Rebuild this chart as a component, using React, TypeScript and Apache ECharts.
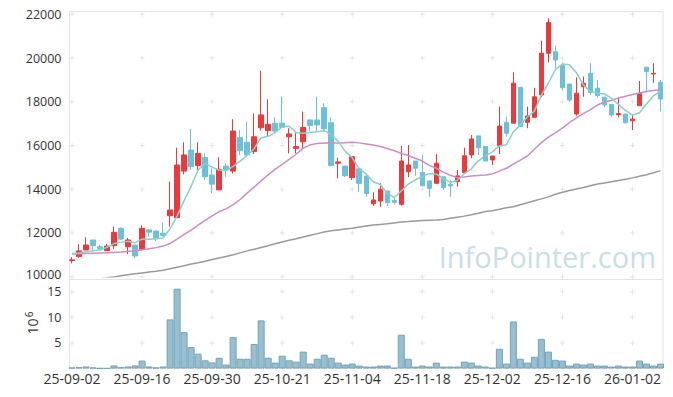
import React, { useEffect, useRef } from "react";
import * as echarts from "echarts";

const dates = [
  "25-09-02","25-09-03","25-09-04","25-09-05","25-09-08","25-09-09","25-09-10","25-09-11","25-09-12","25-09-15",
  "25-09-16","25-09-17","25-09-18","25-09-19","25-09-22","25-09-23","25-09-24","25-09-25","25-09-26","25-09-29",
  "25-09-30","25-10-01","25-10-02","25-10-10","25-10-13","25-10-14","25-10-15","25-10-16","25-10-17","25-10-20",
  "25-10-21","25-10-22","25-10-23","25-10-24","25-10-27","25-10-28","25-10-29","25-10-30","25-10-31","25-11-03",
  "25-11-04","25-11-05","25-11-06","25-11-07","25-11-10","25-11-11","25-11-12","25-11-13","25-11-14","25-11-17",
  "25-11-18","25-11-19","25-11-20","25-11-21","25-11-24","25-11-25","25-11-26","25-11-27","25-11-28","25-12-01",
  "25-12-02","25-12-03","25-12-04","25-12-05","25-12-08","25-12-09","25-12-10","25-12-11","25-12-12","25-12-15",
  "25-12-16","25-12-17","25-12-18","25-12-19","25-12-22","25-12-23","25-12-24","25-12-26","25-12-29","25-12-30",
  "26-01-02","26-01-05","26-01-06","26-01-07","26-01-08",
];

const opens = [
  10740,10920,11220,11680,11370,11190,11420,12210,11370,11450,
  11250,12140,12090,11990,12790,12700,14830,15790,15080,15460,
  14650,13970,15060,14830,16360,16150,15720,16810,16680,17020,
  17020,16400,15870,16170,17170,17170,17730,17040,15190,15060,
  14530,14930,14600,13340,13460,13920,13490,13310,14800,15290,
  14760,14380,14270,14570,14230,14350,14760,15570,16440,15950,
  15340,15990,17060,17020,18660,17060,17290,18310,20220,20290,
  19650,18810,17440,18690,19300,18620,18210,17880,17410,17440,
  17130,17820,19580,19270,18890,
];
const closes = [
  10770,11180,11450,11420,11280,11400,12030,11720,11680,10950,
  12210,12030,11780,11890,13050,15110,15570,15030,15640,14570,
  14230,14910,14880,16660,15760,15570,16400,17400,16970,16660,
  16830,16530,15950,16830,16910,16940,16760,15080,15250,14620,
  15490,14270,13810,13510,14000,13390,13400,15290,15110,14960,
  14160,14040,15190,14070,14150,14610,15530,16300,15900,15290,
  15520,16890,16560,18850,16860,17350,18230,20220,21630,19910,
  18640,18080,18390,18850,18420,18280,17850,17400,17460,17040,
  17210,18390,19380,19300,18130,
];
const lows = [
  10610,10870,11220,11140,11220,11190,11270,11680,11030,10840,
  11250,11830,11630,11840,12290,12700,14680,14880,14830,14420,
  13810,13970,14570,14730,15570,15500,15610,16680,16400,16600,
  16830,15640,15640,15870,16660,16630,16700,15080,14500,14560,
  14420,13890,13660,13230,13200,13230,13300,13250,14550,14620,
  14160,13660,14270,13970,13660,14120,14760,15420,15570,15290,
  15110,15610,16400,17020,16860,16790,17290,18210,19810,19530,
  18510,18000,17360,18230,18300,18200,17750,17290,17290,17040,
  16710,17820,18430,18870,17550,
];
const highs = [
  10890,11480,11800,11680,11450,11500,12290,12260,11770,11450,
  12350,12170,12090,12490,14350,15900,16150,16760,16150,15640,
  14960,15460,15190,17200,16710,17090,17470,19420,18110,17290,
  18230,16790,16590,17550,17170,18230,17930,17290,15440,15060,
  15490,15000,14730,13860,14270,13920,13610,15980,16020,15290,
  15570,14380,15600,14570,14420,14880,15900,16480,16440,15950,
  15520,17780,17320,19350,18660,17780,18640,20790,21820,20560,
  19790,18810,19120,19150,19760,19000,18210,17880,18160,17440,
  17430,18950,19580,19760,19000,
];
// closes of the four sessions before 25-09-02 (needed for the first MA5 points)
const priorCloses = [11050, 11150, 11200, 11100];

const ma20 = [
  11040,11050,11060,11070,11080,11090,11110,11130,11160,11190,
  11230,11280,11330,11400,11520,11720,11930,12130,12360,12580,
  12780,12980,13100,13300,13530,13820,14100,14380,14660,14920,
  15140,15370,15600,15880,16030,16090,16110,16110,16110,16130,
  16150,16120,16070,16020,15950,15860,15760,15640,15540,15420,
  15290,15090,14960,14780,14640,14530,14560,14600,14630,14650,
  14700,14830,14960,15150,15330,15520,15830,16130,16380,16580,
  16800,17050,17260,17460,17640,17850,17990,18060,18170,18250,
  18330,18400,18470,18510,18540,
];
const ma120 = [
  9800,9830,9860,9870,9900,9950,9990,10040,10090,10130,
  10170,10210,10250,10300,10360,10430,10500,10580,10640,10710,
  10790,10860,10920,11000,11090,11180,11260,11340,11420,11510,
  11590,11670,11740,11820,11900,11970,12040,12100,12140,12180,
  12220,12270,12320,12360,12390,12420,12460,12500,12520,12550,
  12570,12580,12590,12620,12670,12720,12770,12830,12900,12980,
  13020,13080,13150,13200,13290,13380,13470,13560,13650,13770,
  13860,13940,14010,14080,14160,14240,14290,14340,14400,14460,
  14520,14590,14660,14750,14850,
];
const volumes = [
  0.2,0.26,0.4,0.2,0.05,0.05,0.6,0.26,0.4,0.6,
  1.55,0.4,0.2,0.4,9.6,15.6,7.1,4.2,2.9,1.6,
  1.2,2.1,0.77,6.15,1.9,1.9,4.8,9.4,2.1,1.15,
  2.5,1.6,1.35,3.3,0.96,1.9,2.7,2.1,1.15,0.77,
  0.96,0.58,0.38,0.38,0.58,0.58,0.13,6.6,1.9,0.38,
  0.58,0.38,1.15,0.38,0.38,0.38,1.35,1.15,0.58,0.38,
  0.13,3.85,0.96,9.2,1.9,1.15,2.3,5.8,3.3,1.7,
  1.55,0.58,0.96,0.77,0.96,0.58,0.58,0.38,0.58,0.38,
  0.38,1.55,0.96,0.58,0.96,
];

const priceTicks = [10000, 12000, 14000, 16000, 18000, 20000, 22000];
const volumeTicks = [5, 10, 15];
const labelIndices = [0, 10, 20, 30, 40, 50, 60, 70, 80];

const FONT = "'Open Sans', sans-serif";

function movingAverage5(): number[] {
  const all = priorCloses.concat(closes);
  const out: number[] = [];
  for (let i = 0; i < closes.length; i++) {
    let s = 0;
    for (let k = 0; k < 5; k++) s += all[i + priorCloses.length - k];
    out.push(Math.round(s / 5));
  }
  return out;
}

export default function App() {
  const ref = useRef<HTMLDivElement>(null);
  useEffect(() => {
    document.body.style.margin = "0";
    if (!ref.current) return;
    const chart = echarts.init(ref.current, undefined, { renderer: "svg" });
    const candles = dates.map((_, i) => [opens[i], closes[i], lows[i], highs[i]]);
    const ma5 = movingAverage5();
    const crossSymbol = "path://M2,0h1v5h-1zM0,2h5v1h-5z";
    const priceCrosses: number[][] = [];
    labelIndices.forEach((ix) => priceTicks.forEach((t) => priceCrosses.push([ix, t])));
    const volCrosses: number[][] = [];
    labelIndices.forEach((ix) => volumeTicks.forEach((t) => volCrosses.push([ix, t])));

    const gridLeft = 68.5;
    const gridRight = 9;

    chart.setOption({
      animation: false,
      backgroundColor: "#ffffff",
      textStyle: { fontFamily: FONT },
      grid: [
        { left: gridLeft, right: gridRight, top: 14.3, height: 262.4 },
        { left: gridLeft, right: gridRight, top: 279, height: 89.5 },
      ],
      xAxis: [
        {
          type: "category",
          gridIndex: 0,
          data: dates,
          boundaryGap: true,
          axisLine: { show: false },
          axisTick: { show: false },
          axisLabel: { show: false },
          splitLine: { show: false },
        },
        {
          type: "category",
          gridIndex: 1,
          data: dates,
          boundaryGap: true,
          axisLine: { show: false },
          axisTick: { show: false },
          axisLabel: { interval: 9, fontSize: 14, color: "#333", margin: 3, fontFamily: FONT },
          splitLine: { show: false },
        },
      ],
      yAxis: [
        {
          type: "value",
          gridIndex: 0,
          min: 10000,
          max: 22000,
          interval: 2000,
          axisLine: { show: false },
          axisTick: { show: false },
          axisLabel: {
            fontSize: 12.5,
            lineHeight: 12,
            color: "#333",
            margin: 7,
            fontFamily: FONT,
            formatter: (v: number) => (v === 10000 ? "{lo|10000}" : String(v)),
            rich: {
              lo: { fontSize: 12.5, lineHeight: 12, color: "#333", fontFamily: FONT, padding: [0, 0, 4, 0] },
            },
          },
          splitLine: { show: false },
        },
        {
          type: "value",
          gridIndex: 1,
          min: 0,
          max: 17.5,
          interval: 5,
          axisLine: { show: false },
          axisTick: { show: false },
          axisLabel: {
            fontSize: 12.5,
            lineHeight: 12,
            color: "#333",
            margin: 7,
            fontFamily: FONT,
            showMinLabel: false,
            showMaxLabel: false,
            formatter: (v: number) => (v > 0 && v % 5 === 0 ? String(v) : ""),
          },
          splitLine: { show: false },
        },
      ],
      graphic: [
        {
          type: "rect",
          silent: true,
          z: 0,
          shape: { x: 69.5, y: 11.5, width: 593.5, height: 357 },
          style: { fill: "none", stroke: "#e4e4e4", lineWidth: 1 },
        },
        {
          type: "line",
          silent: true,
          shape: { x1: 69.5, y1: 279.5, x2: 663, y2: 279.5 },
          style: { stroke: "#e4e4e4", lineWidth: 1 },
        },
        {
          type: "text",
          silent: true,
          z: -1,
          x: 656,
          y: 256,
          style: {
            text: "InfoPointer.com",
            fontSize: 29,
            fontFamily: FONT,
            fill: "#cadee7",
            align: "right",
            verticalAlign: "middle",
          },
        },
        {
          type: "text",
          silent: true,
          x: 32.5,
          y: 326.5,
          rotation: Math.PI / 2,
          style: {
            text: "10",
            fontSize: 14,
            fontFamily: FONT,
            fill: "#333",
            align: "center",
            verticalAlign: "middle",
          },
        },
        {
          type: "text",
          silent: true,
          x: 29,
          y: 314.5,
          rotation: Math.PI / 2,
          style: {
            text: "6",
            fontSize: 10,
            fontFamily: FONT,
            fill: "#333",
            align: "center",
            verticalAlign: "middle",
          },
        },
      ],
      series: [
        {
          type: "scatter",
          xAxisIndex: 0,
          yAxisIndex: 0,
          data: priceCrosses,
          symbol: crossSymbol,
          symbolSize: 5,
          silent: true,
          itemStyle: { color: "#dedede" },
          z: 1,
        },
        {
          type: "scatter",
          xAxisIndex: 1,
          yAxisIndex: 1,
          data: volCrosses,
          symbol: crossSymbol,
          symbolSize: 5,
          silent: true,
          itemStyle: { color: "#dedede" },
          z: 1,
        },
        {
          type: "candlestick",
          xAxisIndex: 0,
          yAxisIndex: 0,
          data: candles,
          barWidth: 5,
          itemStyle: {
            color: "#ec3a3c",
            color0: "#6cc0d8",
            borderColor: "#ec3a3c",
            borderColor0: "#6cc0d8",
            borderWidth: 1,
          },
          z: 3,
        },
        {
          type: "line",
          xAxisIndex: 0,
          yAxisIndex: 0,
          data: ma120,
          showSymbol: false,
          lineStyle: { color: "#9a9a9a", width: 1.5 },
          z: 4,
        },
        {
          type: "line",
          xAxisIndex: 0,
          yAxisIndex: 0,
          data: ma20,
          showSymbol: false,
          lineStyle: { color: "#cc8dc6", width: 1.5 },
          z: 4,
        },
        {
          type: "line",
          xAxisIndex: 0,
          yAxisIndex: 0,
          data: ma5,
          showSymbol: false,
          lineStyle: { color: "#8ccfc3", width: 1.5 },
          z: 4,
        },
        {
          type: "bar",
          xAxisIndex: 1,
          yAxisIndex: 1,
          data: volumes,
          barCategoryGap: "0%",
          itemStyle: { color: "#98bfd0", borderColor: "#74a3b9", borderWidth: 1 },
          z: 3,
        },
      ],
    });
    return () => chart.dispose();
  }, []);
  return (
    <div
      ref={ref}
      style={{ position: "fixed", left: 0, top: 0, width: 673, height: 397, background: "#fff" }}
    />
  );
}
